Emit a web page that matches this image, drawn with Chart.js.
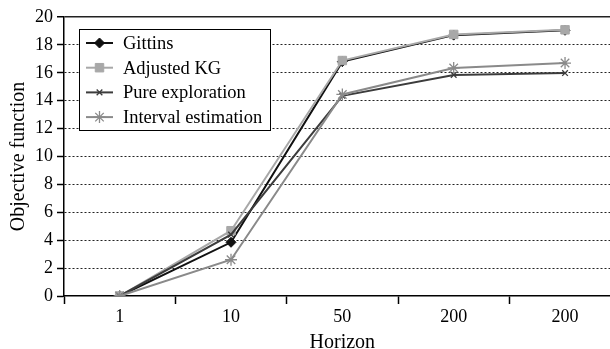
<!DOCTYPE html>
<html>
<head>
<meta charset="utf-8">
<script src="https://cdn.jsdelivr.net/npm/chart.js@4.4.1/dist/chart.umd.min.js"></script>
<style>
html,body{margin:0;padding:0;background:#fff;overflow:hidden;}
#wrap{position:absolute;left:0;top:0;width:628px;height:355px;}
</style>
</head>
<body>
<div id="wrap"><canvas id="c"></canvas></div>
<script>
const categories = ["1", "10", "50", "200", "200"];
const gittins = [0, 3.85, 16.8, 18.7, 19.05];
const adjustedKG = [0, 4.68, 16.88, 18.75, 19.08];
const pureExploration = [0, 4.4, 14.35, 15.85, 15.98];
const intervalEstimation = [0, 2.6, 14.45, 16.35, 16.7];
const yTicks = [0, 2, 4, 6, 8, 10, 12, 14, 16, 18, 20];

const FONT = "'Liberation Serif', 'Times New Roman', serif";

const legendPlugin = {
  id: 'boxLegend',
  afterDatasetsDraw(chart) {
    const ctx = chart.ctx;
    const x0 = 79, y0 = 29, w = 191, h = 101;
    ctx.save();
    ctx.fillStyle = '#fff';
    ctx.fillRect(x0, y0, w, h);
    ctx.strokeStyle = '#000';
    ctx.lineWidth = 1;
    ctx.strokeRect(x0 + 0.5, y0 + 0.5, w, h);
    chart.data.datasets.forEach((ds, i) => {
      const cy = y0 + 14 + i * 24.7;
      ctx.strokeStyle = ds.borderColor;
      ctx.fillStyle = ds.borderColor;
      ctx.lineWidth = 2;
      ctx.beginPath();
      ctx.moveTo(86, cy);
      ctx.lineTo(113, cy);
      ctx.stroke();
      ctx.lineWidth = ds.pointBorderWidth || 1;
      Chart.helpers.drawPoint(ctx, {
        pointStyle: ds.pointStyle,
        radius: ds.pointRadius,
        borderWidth: ds.pointBorderWidth || 1
      }, 99.5, cy);
      ctx.fillStyle = '#000';
      ctx.font = '18.5px ' + FONT;
      ctx.textBaseline = 'middle';
      ctx.textAlign = 'left';
      ctx.fillText(ds.label, 123, cy + 1);
    });
    ctx.restore();
  }
};

function mk(label, data, color, style, r, bw, order) {
  return {
    label, data, order,
    borderColor: color,
    backgroundColor: color,
    pointBackgroundColor: color,
    pointBorderColor: color,
    borderWidth: 2,
    pointStyle: style,
    pointRadius: r,
    pointBorderWidth: bw,
    pointHoverRadius: r,
    tension: 0
  };
}

new Chart(document.getElementById('c'), {
  type: 'line',
  data: {
    labels: categories,
    datasets: [
      mk('Gittins', gittins, '#111111', 'rectRot', 5, 1, 4),
      mk('Adjusted KG', adjustedKG, '#a8a8a8', 'rect', 6, 1, 3),
      mk('Pure exploration', pureExploration, '#3c3c3c', 'crossRot', 4, 1.3, 2),
      mk('Interval estimation', intervalEstimation, '#8a8a8a', 'star', 6, 1.3, 1)
    ]
  },
  options: {
    responsive: true,
    maintainAspectRatio: false,
    animation: false,
    layout: { padding: { top: 17, right: 2, left: 0, bottom: 0 } },
    plugins: { legend: { display: false }, tooltip: { enabled: false } },
    scales: {
      x: {
        type: 'category',
        offset: true,
        grid: { display: true, drawOnChartArea: false, offset: true, tickLength: 8, color: '#000', tickColor: '#000', tickWidth: 1.5 },
        border: { display: true, color: '#000', width: 1.5 },
        ticks: { color: '#000', font: { family: FONT, size: 18 }, padding: 2, maxRotation: 0, autoSkip: false },
        title: { display: true, text: 'Horizon', color: '#000', font: { family: FONT, size: 20 }, padding: { top: 0, bottom: 0 } },
        afterFit(s) { s.height = 59; }
      },
      y: {
        min: 0, max: 20,
        afterBuildTicks(s) { s.ticks = yTicks.map(v => ({ value: v })); },
        grid: {
          color: (c) => c.tick && c.tick.value === 0 ? 'rgba(0,0,0,0)' : '#222',
          lineWidth: (c) => c.tick && c.tick.value === 20 ? 1.5 : 1,
          tickColor: '#000', tickLength: 7, tickWidth: 1.5, tickBorderDash: []
        },
        border: {
          display: true, color: '#000', width: 1.5,
          dash: (c) => c.tick && c.tick.value === 20 ? [] : [2, 2]
        },
        ticks: { color: '#000', font: { family: FONT, size: 18 }, padding: 4 },
        title: { display: true, text: 'Objective function', color: '#000', font: { family: FONT, size: 20 }, padding: { top: 7, bottom: 0 } },
        afterFit(s) { s.width = 64; }
      }
    }
  },
  plugins: [legendPlugin]
});
</script>
</body>
</html>
